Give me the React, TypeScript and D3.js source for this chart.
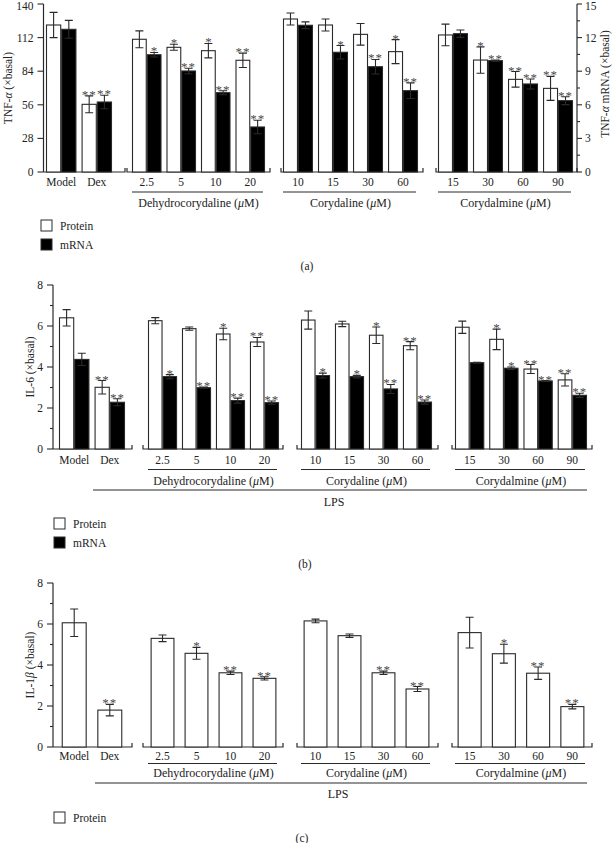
import React from 'react';
import * as d3 from 'd3';

const FONT = '"Liberation Serif", "Times New Roman", serif';

const groupTitles = ['', 'Dehydrocorydaline', 'Corydaline', 'Corydalmine'];
const groupCategories = [
  ['Model', 'Dex'],
  ['2.5', '5', '10', '20'],
  ['10', '15', '30', '60'],
  ['15', '30', '60', '90'],
];

// Panel (a): TNF-alpha
const tnfTicks = [0, 28, 56, 84, 112, 140];
const tnfMrnaTicks = [0, 3, 6, 9, 12, 15];
const tnfMrnaMinor = [1.5, 4.5, 7.5, 10.5, 13.5];
const tnfProtein = [122.5, 56.4, 110.6, 103.9, 101.1, 93.1, 127.5, 122.5, 114.7, 100.3, 114.2, 93.3, 77.2, 69.7];
const tnfProteinErr = [10.5, 7, 7, 2.5, 6, 6, 5, 5, 9, 10, 9, 11, 6.5, 10];
const tnfProteinSig = ['', '**', '', '*', '*', '**', '', '', '', '*', '', '*', '**', '**'];
const tnfMrna = [12.74, 6.25, 10.47, 9.02, 7.08, 4.02, 13.1, 10.69, 9.4, 7.26, 12.35, 9.94, 7.86, 6.37];
const tnfMrnaErr = [0.8, 0.6, 0.2, 0.25, 0.18, 0.6, 0.3, 0.6, 0.65, 0.7, 0.33, 0.05, 0.45, 0.35];
const tnfMrnaSig = ['', '**', '*', '**', '**', '**', '', '*', '**', '**', '', '**', '**', '**'];

// Panel (b): IL-6
const ilTicks = [0, 2, 4, 6, 8];
const ilMinor = [1, 3, 5, 7];
const il6Protein = [6.4, 3.01, 6.26, 5.87, 5.61, 5.22, 6.29, 6.1, 5.55, 5.04, 5.94, 5.35, 3.9, 3.37];
const il6ProteinErr = [0.4, 0.33, 0.15, 0.08, 0.28, 0.22, 0.44, 0.13, 0.4, 0.2, 0.3, 0.5, 0.22, 0.3];
const il6ProteinSig = ['', '**', '', '', '*', '**', '', '', '*', '**', '', '*', '**', '**'];
const il6Mrna = [4.37, 2.28, 3.53, 2.99, 2.36, 2.26, 3.58, 3.53, 2.93, 2.29, 4.21, 3.94, 3.32, 2.62];
const il6MrnaErr = [0.3, 0.17, 0.1, 0.03, 0.12, 0.08, 0.12, 0.06, 0.22, 0.1, 0.02, 0.06, 0.02, 0.1];
const il6MrnaSig = ['', '**', '*', '**', '**', '**', '*', '*', '**', '**', '', '*', '**', '**'];

// Panel (c): IL-1beta
const il1bProtein = [6.06, 1.8, 5.3, 4.57, 3.62, 3.35, 6.15, 5.43, 3.62, 2.83, 5.58, 4.55, 3.6, 1.97];
const il1bProteinErr = [0.67, 0.28, 0.16, 0.29, 0.08, 0.08, 0.09, 0.08, 0.08, 0.12, 0.75, 0.46, 0.3, 0.11];
const il1bProteinSig = ['', '**', '', '*', '**', '**', '', '', '**', '**', '', '*', '**', '**'];

const STROKE = '#2a2a2a';
const STAR = '#4a4a4a';

type Series = { values: number[]; errs: number[]; sig: string[]; fill: string; right?: boolean };
type Cfg = {
  yTop: number; yBase: number; axisX: number; yMax: number; ticks: number[]; minor: number[];
  y2Max?: number; ticks2?: number[]; minor2?: number[]; rightX?: number;
  groups: { base: [number, number]; bars: [number, number] }[];
  series: Series[]; single: boolean;
  ylabel: React.ReactNode; ylabelX: number; ylabel2?: React.ReactNode; ylabel2X?: number; ylabel2Y?: number;
  tickY: number; glineY: number; gnameY: number; lps?: { y: number; x0: number; x1: number; ty: number; tx: number };
  legendX: number; legendY: number[]; legendLabels: string[]; legendFills: string[];
  tag: string; tagX: number; tagY: number;
};

const B: [number, number][] = [[53, 132], [143, 283], [297, 438], [452, 592]];
const BB: [number, number][] = [[59, 125], [148, 279], [301, 432], [455, 587]];

function Panel({ cfg }: { cfg: Cfg }) {
  const y = d3.scaleLinear().domain([0, cfg.yMax]).range([cfg.yBase, cfg.yTop]);
  const y2 = cfg.y2Max ? d3.scaleLinear().domain([0, cfg.y2Max]).range([cfg.yBase, cfg.yTop]) : null;
  const els: React.ReactNode[] = [];
  let offset = 0;
  cfg.groups.forEach((g, gi) => {
    const cats = groupCategories[gi];
    const band = d3.scaleBand<string>().domain(cats).range(g.bars).paddingInner(0.145).paddingOuter(0);
    const bw = band.bandwidth();
    const [x0, x1] = g.base;
    const d = gi === 0
      ? `M${x0},${cfg.yBase}H${x1}V${cfg.yBase - 4}`
      : `M${x0},${cfg.yBase - 4}V${cfg.yBase}H${x1}V${cfg.yBase - 4}`;
    els.push(<path key={`base${gi}`} d={d} fill="none" stroke={STROKE} strokeWidth={1.2} />);
    cats.forEach((c, ci) => {
      const i = offset + ci;
      const bx = band(c)!;
      cfg.series.forEach((s, si) => {
        const sc = s.right && y2 ? y2 : y;
        let rx: number, rw: number;
        if (cfg.single) { rw = bw * 0.82; rx = bx + (bw - rw) / 2; }
        else { rw = bw / cfg.series.length; rx = bx + si * rw; }
        const v = s.values[i], e = s.errs[i];
        const top = sc(v), eTop = sc(v + e), eBot = sc(v - e);
        const cx = rx + rw / 2;
        els.push(<rect key={`r${gi}-${ci}-${si}`} x={rx + 0.5} y={top} width={rw - 1} height={cfg.yBase - top}
          fill={s.fill} stroke={STROKE} strokeWidth={1.1} />);
        els.push(<path key={`e${gi}-${ci}-${si}`}
          d={`M${cx},${eBot}V${eTop}M${cx - 4},${eTop}H${cx + 4}M${cx - 4},${eBot}H${cx + 4}`}
          stroke={STROKE} strokeWidth={1.1} fill="none" />);
        if (s.sig[i]) {
          els.push(<text key={`s${gi}-${ci}-${si}`} x={cx} y={eTop + 3} textAnchor="middle" fontSize={13} fill={STAR}
            letterSpacing={s.sig[i] === '**' ? 1 : 0}>
            {s.sig[i]}</text>);
        }
      });
      els.push(<text key={`t${gi}-${ci}`} x={bx + bw / 2} y={cfg.tickY} textAnchor="middle" fontSize={11.5} fill="#222">{c}</text>);
    });
    if (gi > 0) {
      els.push(<line key={`gl${gi}`} x1={g.bars[0]} x2={g.bars[1] - 2} y1={cfg.glineY} y2={cfg.glineY} stroke={STROKE} strokeWidth={1.1} />);
      els.push(<text key={`gn${gi}`} x={(g.bars[0] + g.bars[1]) / 2} y={cfg.gnameY} textAnchor="middle" fontSize={12} fill="#222">
        {groupTitles[gi]} (<tspan fontStyle="italic">μ</tspan>M)</text>);
    }
    offset += cats.length;
  });

  return (
    <g>
      <line x1={cfg.axisX} x2={cfg.axisX} y1={cfg.yTop} y2={cfg.yBase} stroke={STROKE} strokeWidth={1.2} />
      {cfg.ticks.map(t => (
        <g key={`yt${t}`}>
          <line x1={cfg.axisX - 6} x2={cfg.axisX} y1={y(t)} y2={y(t)} stroke={STROKE} strokeWidth={1.1} />
          <text x={cfg.axisX - 10} y={Math.max(y(t) + 4, 10)} textAnchor="end" fontSize={11.5} fill="#222">{t}</text>
        </g>
      ))}
      {cfg.minor.map(t => (
        <line key={`ym${t}`} x1={cfg.axisX - 3} x2={cfg.axisX} y1={y(t)} y2={y(t)} stroke={STROKE} strokeWidth={1.1} />
      ))}
      <text transform={`translate(${cfg.ylabelX},${(cfg.yTop + cfg.yBase) / 2}) rotate(-90)`} textAnchor="middle" fontSize={11.5} fill="#222">{cfg.ylabel}</text>
      {y2 && cfg.rightX !== undefined && (
        <g>
          <line x1={cfg.rightX} x2={cfg.rightX} y1={cfg.yTop} y2={cfg.yBase} stroke={STROKE} strokeWidth={1.2} />
          {cfg.ticks2!.map(t => (
            <g key={`y2t${t}`}>
              <line x1={cfg.rightX} x2={cfg.rightX! + 5} y1={y2(t)} y2={y2(t)} stroke={STROKE} strokeWidth={1.1} />
              <text x={cfg.rightX! + 8} y={Math.max(y2(t) + 4, 10)} textAnchor="start" fontSize={11.5} fill="#222">{t}</text>
            </g>
          ))}
          {cfg.minor2!.map(t => (
            <line key={`y2m${t}`} x1={cfg.rightX} x2={cfg.rightX! + 3} y1={y2(t)} y2={y2(t)} stroke={STROKE} strokeWidth={1.1} />
          ))}
          <text transform={`translate(${cfg.ylabel2X},${cfg.ylabel2Y}) rotate(-90)`} textAnchor="middle" fontSize={11.5} fill="#222">{cfg.ylabel2}</text>
        </g>
      )}
      {els}
      {cfg.lps && (
        <g>
          <line x1={cfg.lps.x0} x2={cfg.lps.x1} y1={cfg.lps.y} y2={cfg.lps.y} stroke={STROKE} strokeWidth={1.1} />
          <text x={cfg.lps.tx} y={cfg.lps.ty} textAnchor="middle" fontSize={12} fill="#222">LPS</text>
        </g>
      )}
      {cfg.legendLabels.map((l, li) => (
        <g key={`lg${li}`}>
          <rect x={cfg.legendX} y={cfg.legendY[li]} width={11} height={11} fill={cfg.legendFills[li]} stroke={STROKE} strokeWidth={1} />
          <text x={cfg.legendX + 19} y={cfg.legendY[li] + 9.5} fontSize={11.5} fill="#222">{l}</text>
        </g>
      ))}
      <text x={cfg.tagX} y={cfg.tagY} textAnchor="middle" fontSize={11.5} fill="#222">{cfg.tag}</text>
    </g>
  );
}

const cfgA: Cfg = {
  yTop: 4, yBase: 172, axisX: 43.5, yMax: 140, ticks: tnfTicks, minor: [],
  y2Max: 15, ticks2: tnfMrnaTicks, minor2: tnfMrnaMinor, rightX: 577,
  groups: [
    { base: [43.5, 125], bars: [46, 112] },
    { base: [127, 270], bars: [132, 265] },
    { base: [281, 423], bars: [283, 418] },
    { base: [436, 577], bars: [438, 573] },
  ],
  series: [
    { values: tnfProtein, errs: tnfProteinErr, sig: tnfProteinSig, fill: '#fff' },
    { values: tnfMrna, errs: tnfMrnaErr, sig: tnfMrnaSig, fill: '#000', right: true },
  ],
  single: false,
  ylabel: <>TNF-<tspan fontStyle="italic">α</tspan> (×basal)</>, ylabelX: 12,
  ylabel2: <>TNF-<tspan fontStyle="italic">α</tspan> mRNA (×basal)</>, ylabel2X: 609, ylabel2Y: 84,
  tickY: 186, glineY: 192, gnameY: 207,
  legendX: 41, legendY: [220, 239], legendLabels: ['Protein', 'mRNA'], legendFills: ['#fff', '#000'],
  tag: '(a)', tagX: 307, tagY: 270,
};

const cfgB: Cfg = {
  yTop: 285, yBase: 449, axisX: 53, yMax: 8, ticks: ilTicks, minor: ilMinor,
  groups: B.map((b, i) => ({ base: b, bars: BB[i] })),
  series: [
    { values: il6Protein, errs: il6ProteinErr, sig: il6ProteinSig, fill: '#fff' },
    { values: il6Mrna, errs: il6MrnaErr, sig: il6MrnaSig, fill: '#000' },
  ],
  single: false,
  ylabel: <>IL-6 (×basal)</>, ylabelX: 34,
  tickY: 464, glineY: 469.5, gnameY: 485,
  lps: { y: 490, x0: 93, x1: 587, ty: 506, tx: 334 },
  legendX: 54, legendY: [518, 537], legendLabels: ['Protein', 'mRNA'], legendFills: ['#fff', '#000'],
  tag: '(b)', tagX: 305, tagY: 568,
};

const cfgC: Cfg = {
  yTop: 583, yBase: 747, axisX: 53, yMax: 8, ticks: ilTicks, minor: ilMinor,
  groups: B.map((b, i) => ({ base: b, bars: BB[i] })),
  series: [
    { values: il1bProtein, errs: il1bProteinErr, sig: il1bProteinSig, fill: '#fff' },
  ],
  single: true,
  ylabel: <>IL-1<tspan fontStyle="italic">β</tspan> (×basal)</>, ylabelX: 34,
  tickY: 760, glineY: 763.5, gnameY: 777,
  lps: { y: 783, x0: 95, x1: 587, ty: 798, tx: 338 },
  legendX: 54, legendY: [812], legendLabels: ['Protein'], legendFills: ['#fff'],
  tag: '(c)', tagX: 302, tagY: 842,
};

export default function App() {
  return (
    <svg width={614} height={843} style={{ position: 'absolute', left: 0, top: 0, display: 'block', background: '#fff' }}
      fontFamily={FONT}>
      <rect width={614} height={843} fill="#fff" />
      <Panel cfg={cfgA} />
      <Panel cfg={cfgB} />
      <Panel cfg={cfgC} />
    </svg>
  );
}
